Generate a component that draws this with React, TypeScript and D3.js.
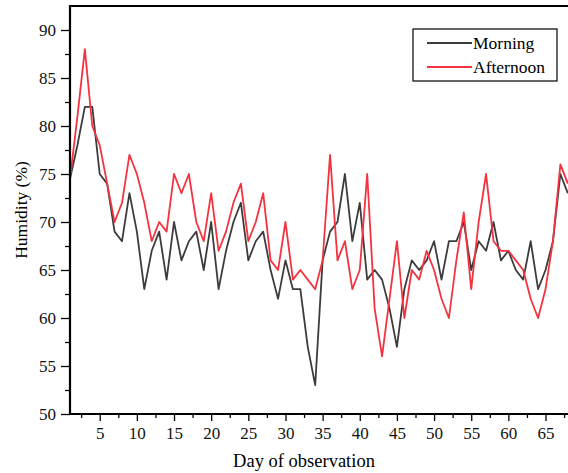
import React, { useEffect, useRef } from "react";
import * as d3 from "d3";

// Daily humidity readings (%)
const days = d3.range(1, 69);
const morning = [
  74.5, 78, 82, 82, 75, 74, 69, 68, 73, 69, 63, 67, 69, 64, 70, 66, 68, 69, 65, 70,
  63, 67, 70, 72, 66, 68, 69, 65, 62, 66, 63, 63, 57, 53, 66, 69, 70, 75, 68, 72,
  64, 65, 64, 61, 57, 63, 66, 65, 66, 68, 64, 68, 68, 70, 65, 68, 67, 70, 66, 67,
  65, 64, 68, 63, 65, 68, 75, 73,
];
const afternoon = [
  74.5, 81, 88, 80, 78, 74, 70, 72, 77, 75, 72, 68, 70, 69, 75, 73, 75, 70, 68, 73,
  67, 69, 72, 74, 68, 70, 73, 66, 65, 70, 64, 65, 64, 63, 66, 77, 66, 68, 63, 65,
  75, 61, 56, 62, 68, 60, 65, 64, 67, 65, 62, 60, 66, 71, 63, 70, 75, 68, 67, 67,
  66, 65, 62, 60, 63, 68, 76, 74,
];
const seriesNames = ["Morning", "Afternoon"];
const seriesColors = ["#3c3c3c", "#f5333f"];
const xTicks = [5, 10, 15, 20, 25, 30, 35, 40, 45, 50, 55, 60, 65];
const yTicks = [50, 55, 60, 65, 70, 75, 80, 85, 90];

const Chart = () => {
  const width = 568;
  const height = 473;
  const margin = { top: 6, left: 70, bottom: 414 };
  const font = "Liberation Serif, Times New Roman, serif";
  const divRef = useRef(null);

  useEffect(() => {
    const svg = d3
      .create("svg")
      .attr("width", width)
      .attr("height", height)
      .attr("font-family", font)
      .style("position", "absolute")
      .style("left", 0)
      .style("top", 0);

    // x runs past the right edge, the figure is cropped there
    const x = d3.scaleLinear().domain([1, 70]).range([margin.left, margin.left + 69 * 7.43]);
    const y = d3.scaleLinear().domain([50, 92.5]).range([margin.bottom, margin.top]);

    // lines
    const line = d3
      .line()
      .x((d, i) => x(days[i]))
      .y((d) => y(d));
    [morning, afternoon].forEach((vals, k) => {
      svg
        .append("path")
        .datum(vals)
        .attr("d", line)
        .attr("fill", "none")
        .attr("stroke", seriesColors[k])
        .attr("stroke-width", 1.8)
        .attr("stroke-linejoin", "round");
    });

    // frame top
    svg
      .append("line")
      .attr("x1", margin.left)
      .attr("x2", width)
      .attr("y1", margin.top)
      .attr("y2", margin.top)
      .attr("stroke", "#000")
      .attr("stroke-width", 2);

    // y axis
    const yAxis = svg.append("g").attr("transform", `translate(${margin.left},0)`);
    yAxis
      .append("g")
      .call(d3.axisLeft(y).tickValues(d3.range(52.5, 92.5, 5)).tickSize(5).tickFormat(() => ""))
      .call((g) => g.select(".domain").remove());
    yAxis
      .append("g")
      .call(d3.axisLeft(y).tickValues(yTicks).tickSize(9).tickPadding(5))
      .call((g) => g.select(".domain").remove());
    yAxis.selectAll("line").attr("stroke-width", 1.3);
    yAxis
      .append("line")
      .attr("y1", margin.top - 1)
      .attr("y2", margin.bottom + 1)
      .attr("stroke", "#000")
      .attr("stroke-width", 2.2);

    // x axis
    const xAxis = svg.append("g").attr("transform", `translate(0,${margin.bottom})`);
    xAxis
      .append("g")
      .call(d3.axisBottom(x).tickValues(d3.range(2.5, 70, 5)).tickSize(4).tickFormat(() => ""))
      .call((g) => g.select(".domain").remove());
    xAxis
      .append("g")
      .call(d3.axisBottom(x).tickValues(xTicks).tickSize(7).tickPadding(6))
      .call((g) => g.select(".domain").remove());
    xAxis.selectAll("line").attr("stroke-width", 1.3);
    xAxis
      .append("line")
      .attr("x1", margin.left - 1)
      .attr("x2", width)
      .attr("stroke", "#000")
      .attr("stroke-width", 2.2);

    // d3 axes put their own font on the group, drop it
    svg.selectAll("g").attr("font-family", null).attr("font-size", null);
    svg.selectAll(".tick text").attr("font-size", 17).attr("fill", "#111");

    // axis titles
    svg
      .append("text")
      .attr("x", 304)
      .attr("y", 467)
      .attr("text-anchor", "middle")
      .attr("font-size", 18.5)
      .text("Day of observation");
    svg
      .append("text")
      .attr("transform", `translate(27,${(margin.top + margin.bottom) / 2}) rotate(-90)`)
      .attr("text-anchor", "middle")
      .attr("font-size", 17.5)
      .text("Humidity (%)");

    // legend
    const legend = svg.append("g").attr("transform", "translate(413,29)");
    legend
      .append("rect")
      .attr("width", 144)
      .attr("height", 52)
      .attr("fill", "#fff")
      .attr("stroke", "#000")
      .attr("stroke-width", 1.2);
    seriesNames.forEach((name, k) => {
      const ly = 14 + k * 24;
      legend
        .append("line")
        .attr("x1", 14)
        .attr("x2", 59)
        .attr("y1", ly)
        .attr("y2", ly)
        .attr("stroke", seriesColors[k])
        .attr("stroke-width", 1.8);
      legend
        .append("text")
        .attr("x", 60)
        .attr("y", ly + 6)
        .attr("font-size", 17.5)
        .text(name);
    });

    divRef.current.innerHTML = "";
    divRef.current.appendChild(svg.node());
  }, []);

  return <div ref={divRef} />;
};

export default function App() {
  return <Chart />;
}
